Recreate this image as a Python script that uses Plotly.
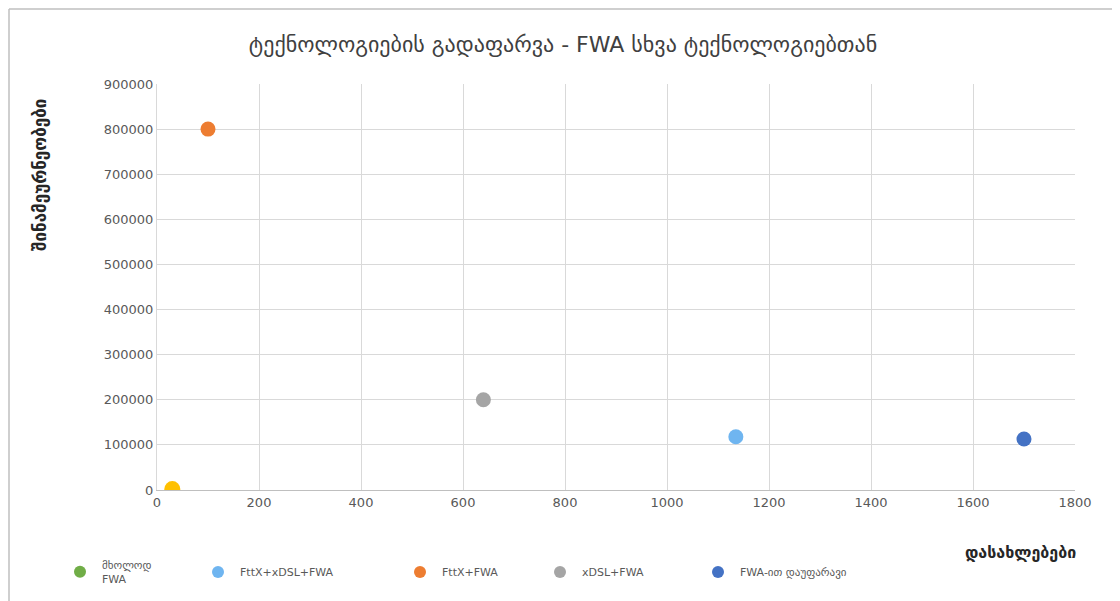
import plotly.graph_objects as go

# series: name, color, settlements (x), households (y)
names = ['მხოლოდ<br>FWA', 'FttX+xDSL+FWA', 'FttX+FWA', 'xDSL+FWA', 'FWA-ით დაუფარავი']
colors = ['#70AD47', '#6FB5F0', '#ED7D31', '#A5A5A5', '#4472C4']
x_vals = [30, 1135, 100, 640, 1700]
y_vals = [0, 118000, 800000, 200000, 113000]

# extra point drawn without legend entry
extra_x = [30]
extra_y = [2000]
extra_color = '#FFC000'

x_ticks = [0, 200, 400, 600, 800, 1000, 1200, 1400, 1600, 1800]
y_ticks = [0, 100000, 200000, 300000, 400000, 500000, 600000, 700000, 800000, 900000]

W, H = 1120, 601
OFF = 8  # page body margin
# plot area in page (viewport) pixels
PL, PR, PT, PB = 157, 1075, 84, 490
pw = PR - PL
ph = PB - PT


def px_x(v):
    return (v - PL) / pw


def px_y(v):
    return (PB - v) / ph


# legend x positions (pixels of marker)
leg_px = [58, 196, 398, 538, 696]

fig = go.Figure()
for i, (n, c, xv, yv) in enumerate(zip(names, colors, x_vals, y_vals)):
    lg = 'legend' if i == 0 else 'legend%d' % (i + 1)
    fig.add_trace(go.Scatter(
        x=[xv], y=[yv], mode='markers', name=n, legend=lg,
        marker=dict(color=c, size=15, line=dict(width=0)),
    ))
fig.add_trace(go.Scatter(
    x=extra_x, y=extra_y, mode='markers', showlegend=False,
    marker=dict(color=extra_color, size=16, line=dict(width=0)),
))

legends = {}
for i, px in enumerate(leg_px):
    key = 'legend' if i == 0 else 'legend%d' % (i + 1)
    legends[key] = dict(
        x=px_x(px), y=px_y(572), xanchor='left', yanchor='middle',
        bgcolor='rgba(0,0,0,0)', font=dict(size=11, color='#595959'),
        itemsizing='constant', itemwidth=34,
    )

fig.update_layout(
    width=W, height=H,
    margin=dict(l=PL - OFF, r=W - (PR - OFF), t=PT - OFF, b=H - (PB - OFF)),
    paper_bgcolor='white', plot_bgcolor='white',
    font=dict(family='DejaVu Sans, Arial, sans-serif', color='#595959'),
    title=dict(text='ტექნოლოგიების გადაფარვა - FWA სხვა ტექნოლოგიებთან',
               xref='paper', x=px_x(563), xanchor='center',
               y=1 - (44 - OFF) / H, yanchor='middle',
               font=dict(size=22, color='#404040')),
    xaxis=dict(range=[0, 1800], tickvals=x_ticks, showgrid=True, gridcolor='#D9D9D9',
               zeroline=False, showline=True, linecolor='#BFBFBF', linewidth=1,
               tickfont=dict(size=13, color='#595959'), ticks=''),
    yaxis=dict(range=[0, 900000], tickvals=y_ticks, tickformat='d', showgrid=True,
               gridcolor='#D9D9D9', zeroline=False, showline=True, linecolor='#D9D9D9',
               tickfont=dict(size=13, color='#595959'), ticks=''),
    **legends,
)

fig.add_annotation(text='<b>შინამეურნეობები</b>', xref='paper', yref='paper',
                   x=px_x(40), y=px_y(175), showarrow=False, textangle=-90,
                   xanchor='center', yanchor='middle',
                   font=dict(size=17, color='#262626'))
fig.add_annotation(text='<b>დასახლებები</b>', xref='paper', yref='paper',
                   x=px_x(1020), y=px_y(552), showarrow=False,
                   xanchor='center', yanchor='middle',
                   font=dict(size=16, color='#262626'))

# outer chart frame (page margin pushes the figure's own edge to x=8, y=8)
fig.add_shape(type='line', xref='paper', yref='paper',
              x0=px_x(9), x1=px_x(9), y0=px_y(9), y1=px_y(640),
              line=dict(color='#BFBFBF', width=1.5))
fig.add_shape(type='line', xref='paper', yref='paper',
              x0=px_x(9), x1=px_x(1140), y0=px_y(9), y1=px_y(9),
              line=dict(color='#BFBFBF', width=1.5))

fig.write_html('out.html')
